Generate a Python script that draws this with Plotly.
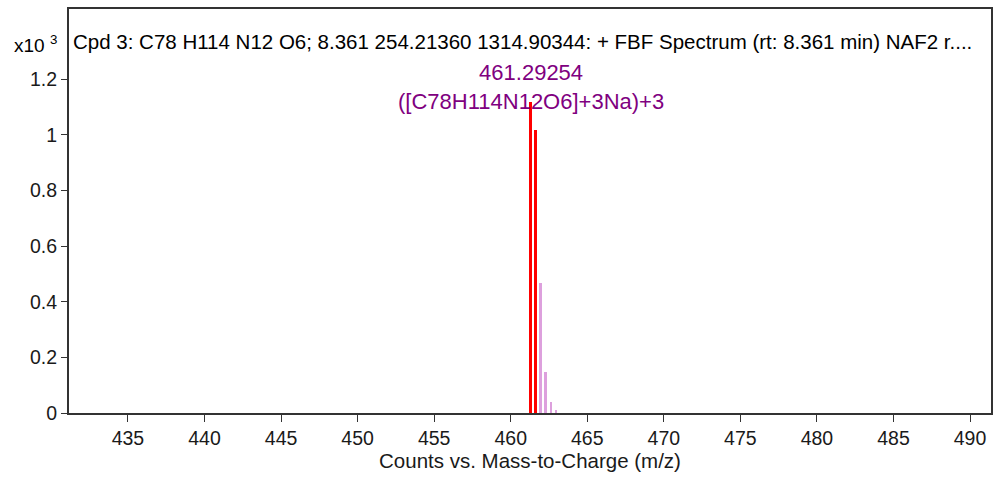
import plotly.graph_objects as go

# Data (counts, shown on axis as x10^3)
red_mz = [461.29254, 461.627]
red_counts = [1118.6, 1017.0]
pink_mz = [461.962, 462.297, 462.632, 462.967]
pink_counts = [468.0, 148.0, 38.0, 11.0]

x_ticks = [435, 440, 445, 450, 455, 460, 465, 470, 475, 480, 485, 490]
y_ticks = [0, 0.2, 0.4, 0.6, 0.8, 1.0, 1.2]
y_tick_text = ["0", "0.2", "0.4", "0.6", "0.8", "1", "1.2"]

title_text = "Cpd 3: C78 H114 N12 O6; 8.361 254.21360 1314.90344: + FBF Spectrum (rt: 8.361 min) NAF2 r...."
peak_label = "461.29254"
peak_formula = "([C78H114N12O6]+3Na)+3"

FONT = "Liberation Sans, Arial, sans-serif"

fig = go.Figure()
fig.add_trace(go.Bar(x=pink_mz, y=[c / 1000 for c in pink_counts], width=0.12,
                     marker=dict(color="#DDA0DD", line=dict(width=0)), showlegend=False))
fig.add_trace(go.Bar(x=red_mz, y=[c / 1000 for c in red_counts], width=0.19,
                     marker=dict(color="#FF0000", line=dict(width=0)), showlegend=False))

fig.add_annotation(x=red_mz[0], y=red_counts[0] / 1000, xref="x", yref="y",
                   text=peak_label + "<br>" + peak_formula, showarrow=False,
                   yanchor="bottom", yshift=-14, align="center",
                   font=dict(family=FONT, size=22, color="#800080"))

fig.add_annotation(x=0, y=1, xref="paper", yref="paper", xanchor="left", yanchor="top",
                   xshift=2, yshift=-19, text=title_text, showarrow=False,
                   font=dict(family=FONT, size=20.5, color="#000000"))
fig.add_annotation(x=0, y=1, xref="paper", yref="paper", xanchor="right", yanchor="top",
                   xshift=-10, yshift=-21, text="x10 <sup>3</sup>", showarrow=False,
                   font=dict(family=FONT, size=19, color="#000000"))

fig.update_layout(
    width=995, height=479,
    margin=dict(l=69, r=2, t=9, b=66),
    plot_bgcolor="white", paper_bgcolor="white",
    bargap=0, barmode="overlay",
    font=dict(family=FONT, size=19.5, color="#1a1a1a"),
    xaxis=dict(range=[431.15, 491.37], tickvals=x_ticks, ticks="outside", ticklen=7,
               tickcolor="#333333", showgrid=False, zeroline=False,
               showline=True, linecolor="#333333", linewidth=2, mirror=True,
               tickfont=dict(family=FONT, size=19.5, color="#1a1a1a"),
               title=dict(text="Counts vs. Mass-to-Charge (m/z)", standoff=2,
                          font=dict(family=FONT, size=20.5, color="#1a1a1a"))),
    yaxis=dict(range=[0, 1.452], tickvals=y_ticks, ticktext=y_tick_text, ticks="outside",
               ticklen=6, tickcolor="#333333", showgrid=False, zeroline=False,
               showline=True, linecolor="#333333", linewidth=2, mirror=True,
               tickfont=dict(family=FONT, size=19.5, color="#1a1a1a")),
)

fig.write_html("out.html", config={"displayModeBar": False},
               post_script="document.body.style.margin='0';")
